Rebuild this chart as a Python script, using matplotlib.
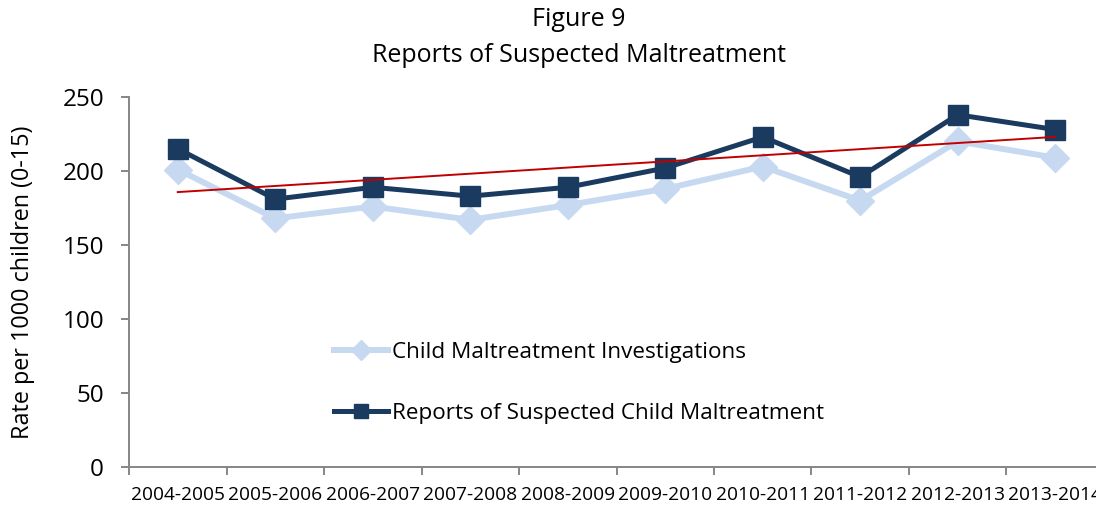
import numpy as np
import matplotlib
matplotlib.use("Agg")
import matplotlib.pyplot as plt
from matplotlib.ticker import FixedLocator, NullFormatter

# Fiscal years shown along the horizontal axis
years = ["2004-2005", "2005-2006", "2006-2007", "2007-2008", "2008-2009",
         "2009-2010", "2010-2011", "2011-2012", "2012-2013", "2013-2014"]

# Rates per 1000 children (0-15)
investigations = [201, 168, 176, 167, 177, 188, 203, 180, 220, 209]
reports = [215, 181, 189, 183, 189, 202, 223, 196, 238, 228]

y_ticks = [0, 50, 100, 150, 200, 250]

plt.rcParams["font.family"] = ["Open Sans", "DejaVu Sans"]

LIGHT = "#c6d9f1"
DARK = "#1b3a5f"
TREND = "#c00000"
AXIS = "#868686"

fig = plt.figure(figsize=(10.96, 5.08), dpi=100)
ax = fig.add_axes([129 / 1096, 41 / 508, 975 / 1096, 370 / 508])

x = np.arange(len(years))

ax.plot(x, investigations, color=LIGHT, lw=4.3, marker="D", ms=14,
        mfc=LIGHT, mec=LIGHT, label="Child Maltreatment Investigations",
        solid_joinstyle="miter", zorder=2)
ax.plot(x, reports, color=DARK, lw=3.6, marker="s", ms=14,
        mfc=DARK, mec=DARK, label="Reports of Suspected Child Maltreatment",
        solid_joinstyle="miter", zorder=3)

# Linear trend of the reports series
slope, intercept = np.polyfit(x, reports, 1)
ax.plot([x[0], x[-1]], [intercept + slope * x[0], intercept + slope * x[-1]],
        color=TREND, lw=1.4, zorder=4)

ax.set_xlim(-0.5, len(years) - 0.5)
ax.set_ylim(0, 250)

for side in ("top", "right"):
    ax.spines[side].set_visible(False)
for side in ("left", "bottom"):
    ax.spines[side].set_color(AXIS)
    ax.spines[side].set_linewidth(1.4)

ax.set_yticks(y_ticks)
ax.set_yticklabels([str(v) for v in y_ticks], fontsize=17.5)
ax.tick_params(axis="y", direction="out", length=6, width=1.4, color=AXIS,
               pad=12, labelcolor="black")

# Category labels centred, tick marks on the boundaries
ax.set_xticks(x)
ax.set_xticklabels(years, fontsize=13.8)
ax.tick_params(axis="x", which="major", length=0, pad=14, labelcolor="black")
ax.xaxis.set_minor_locator(FixedLocator(np.arange(-0.5, len(years), 1.0)))
ax.xaxis.set_minor_formatter(NullFormatter())
ax.tick_params(axis="x", which="minor", direction="out", length=6, width=1.4,
               color=AXIS)

ax.set_ylabel("Rate per 1000 children (0-15)", fontsize=16.8)
ax.yaxis.set_label_coords((35 - 129) / 975, 0.5)

fig.text(579 / 1096, 1 - 20 / 508, "Figure 9", ha="center", va="center",
         fontsize=18)
fig.text(579 / 1096, 1 - 56 / 508, "Reports of Suspected Maltreatment",
         ha="center", va="center", fontsize=18)

leg = ax.legend(loc="center left", bbox_to_anchor=(334 / 1096, 1 - 383 / 508),
                bbox_transform=fig.transFigure, frameon=False, fontsize=16.2,
                handlelength=2.4, handletextpad=0.18, labelspacing=1.75,
                markerscale=0.75, borderpad=0, borderaxespad=0)

fig.savefig("out.png", dpi=100)
